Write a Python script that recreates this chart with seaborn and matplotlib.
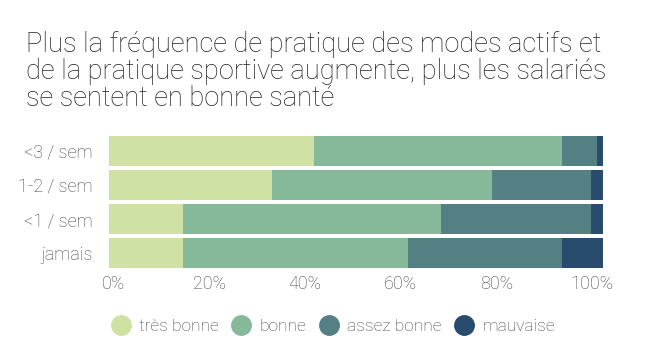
import numpy as np
import pandas as pd
import matplotlib.pyplot as plt
import matplotlib.transforms as mtransforms
import seaborn as sns
from matplotlib.lines import Line2D

# Data (percent)
categories = ["<3 / sem", "1-2 / sem", "<1 / sem", "jamais"]
levels = ["très bonne", "bonne", "assez bonne", "mauvaise"]
tres_bonne = [41.5, 33.0, 15.0, 15.0]
bonne = [50.2, 44.5, 52.2, 45.5]
assez_bonne = [7.1, 20.1, 30.4, 31.2]
mauvaise = [1.2, 2.4, 2.4, 8.3]
colors = ["#cfe1a3", "#85b99a", "#558083", "#284b6e"]
tick_vals = [0, 20, 40, 60, 80, 100]
tick_labels = ["0%", "20%", "40%", "60%", "80%", "100%"]

df = pd.DataFrame({"cat": categories, "très bonne": tres_bonne, "bonne": bonne,
                   "assez bonne": assez_bonne, "mauvaise": mauvaise})
cum = df[levels].cumsum(axis=1)

sns.set_theme(style="white")
plt.rcParams['font.family'] = ['Roboto', 'DejaVu Sans']

fig = plt.figure(figsize=(6.48, 3.52), dpi=100)
ax = fig.add_axes([109 / 648, (352 - 268) / 352, 494 / 648, 132 / 352])

# stacked bars: draw cumulative totals from the widest down
for lev, col in reversed(list(zip(levels, colors))):
    sns.barplot(x=cum[lev], y=df["cat"], color=col, orient="h", width=0.88,
                saturation=1, ax=ax, linewidth=0)

ax.set_xlim(0, 100)
ax.set_ylim(3.44, -0.44)
ax.set_xticks(tick_vals)
ax.set_xticklabels(tick_labels)
ax.set_xlabel("")
ax.set_ylabel("")
ax.tick_params(axis="both", length=0, labelsize=13, labelcolor="#444444")
ax.tick_params(axis="y", pad=12)
ax.tick_params(axis="x", pad=5)
for lab in ax.get_yticklabels() + ax.get_xticklabels():
    lab.set_fontweight("light")
# x labels sit slightly inside the bar range in the original
for i, lab in enumerate(ax.get_xticklabels()):
    off = (4.5 - 3.1 * i) / 100
    lab.set_transform(lab.get_transform() +
                      mtransforms.ScaledTranslation(off, 0, fig.dpi_scale_trans))
sns.despine(ax=ax, left=True, bottom=True)

fig.text(26 / 648, 1 - 31 / 352,
         "Plus la fréquence de pratique des modes actifs et\n"
         "de la pratique sportive augmente, plus les salariés\n"
         "se sentent en bonne santé",
         fontsize=19.6, fontweight="light", color="#222222", va="top", ha="left",
         linespacing=1.0)

handles = [Line2D([0], [0], marker="o", linestyle="", markersize=14,
                  markerfacecolor=c, markeredgecolor=c) for c in colors]
leg = fig.legend(handles, levels, loc="center", bbox_to_anchor=(0.513, 1 - 326 / 352),
                 ncol=4, frameon=False, fontsize=12.5, handlelength=1.2,
                 handletextpad=0.45, columnspacing=0.7, labelcolor="#444444")
for t in leg.get_texts():
    t.set_fontweight("light")

fig.savefig("out.png", dpi=100)
